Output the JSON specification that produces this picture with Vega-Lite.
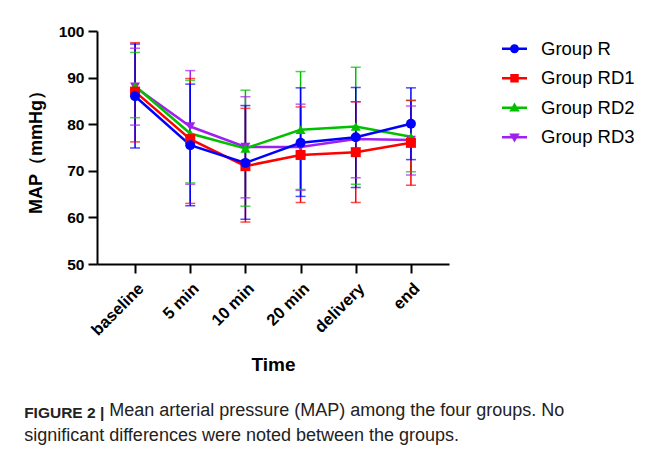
{
  "$schema": "https://vega.github.io/schema/vega-lite/v6.json",
  "width": 352,
  "height": 233,
  "autosize": {"type": "none"},
  "padding": {"left": 97, "top": 31, "right": 210, "bottom": 205},
  "background": "white",
  "title": {
    "text": "FIGURE 2 |",
    "subtitle": ["\u200b\u00a0\u00a0\u00a0\u00a0\u00a0\u00a0\u00a0\u00a0\u00a0\u00a0\u00a0\u00a0\u00a0\u00a0\u00a0\u00a0\u00a0Mean arterial pressure (MAP) among the four groups. No", "significant differences were noted between the groups."],
    "orient": "bottom",
    "anchor": "start",
    "frame": "bounds",
    "offset": 32,
    "dx": -3,
    "font": "Liberation Sans",
    "fontSize": 15.5,
    "fontWeight": "bold",
    "color": "#222222",
    "subtitleFont": "Liberation Sans",
    "subtitleFontSize": 18,
    "subtitleFontWeight": "normal",
    "subtitleColor": "#222222",
    "subtitleLineHeight": 25,
    "subtitlePadding": -19.5
  },
  "data": {
    "values": [
      {"group": "Group RD3", "time": "baseline", "mean": 88.0, "lo": 79.8, "hi": 96.3},
      {"group": "Group RD3", "time": "5 min", "mean": 79.5, "lo": 67.1, "hi": 91.5},
      {"group": "Group RD3", "time": "10 min", "mean": 75.1, "lo": 64.2, "hi": 85.9},
      {"group": "Group RD3", "time": "20 min", "mean": 75.1, "lo": 65.8, "hi": 84.3},
      {"group": "Group RD3", "time": "delivery", "mean": 76.8, "lo": 68.5, "hi": 84.8},
      {"group": "Group RD3", "time": "end", "mean": 76.6, "lo": 69.1, "hi": 83.9},
      {"group": "Group RD2", "time": "baseline", "mean": 88.2, "lo": 81.4, "hi": 95.4},
      {"group": "Group RD2", "time": "5 min", "mean": 78.0, "lo": 67.4, "hi": 89.4},
      {"group": "Group RD2", "time": "10 min", "mean": 74.8, "lo": 62.4, "hi": 87.3},
      {"group": "Group RD2", "time": "20 min", "mean": 78.8, "lo": 66.0, "hi": 91.3},
      {"group": "Group RD2", "time": "delivery", "mean": 79.5, "lo": 67.1, "hi": 92.2},
      {"group": "Group RD2", "time": "end", "mean": 77.3, "lo": 69.8, "hi": 85.1},
      {"group": "Group RD1", "time": "baseline", "mean": 87.0, "lo": 76.2, "hi": 97.5},
      {"group": "Group RD1", "time": "5 min", "mean": 76.8, "lo": 63.0, "hi": 89.8},
      {"group": "Group RD1", "time": "10 min", "mean": 71.0, "lo": 59.0, "hi": 83.4},
      {"group": "Group RD1", "time": "20 min", "mean": 73.4, "lo": 63.2, "hi": 83.7},
      {"group": "Group RD1", "time": "delivery", "mean": 74.0, "lo": 63.2, "hi": 84.8},
      {"group": "Group RD1", "time": "end", "mean": 76.0, "lo": 66.9, "hi": 85.1},
      {"group": "Group R", "time": "baseline", "mean": 86.0, "lo": 74.9, "hi": 97.2},
      {"group": "Group R", "time": "5 min", "mean": 75.5, "lo": 62.5, "hi": 88.6},
      {"group": "Group R", "time": "10 min", "mean": 71.7, "lo": 59.6, "hi": 84.0},
      {"group": "Group R", "time": "20 min", "mean": 76.0, "lo": 64.5, "hi": 87.8},
      {"group": "Group R", "time": "delivery", "mean": 77.2, "lo": 66.4, "hi": 87.9},
      {"group": "Group R", "time": "end", "mean": 80.1, "lo": 72.4, "hi": 87.8}
    ]
  },
  "encoding": {
    "x": {
      "field": "time",
      "type": "nominal",
      "scale": {"type": "point", "domain": ["baseline", "5 min", "10 min", "20 min", "delivery", "end"], "padding": 0.69},
      "axis": {"title": "Time", "labelAngle": -45, "labelPadding": 7, "labelFontSize": 16.5, "titlePadding": 17}
    }
  },
  "layer": [
    {
      "mark": {"type": "rule", "strokeWidth": 1.5},
      "encoding": {
        "y": {"field": "lo", "type": "quantitative"},
        "y2": {"field": "hi"},
        "color": {"field": "group", "type": "nominal", "legend": null,
          "scale": {"domain": ["Group R", "Group RD1", "Group RD2", "Group RD3"], "range": ["#0000FF", "#FF0000", "#00C000", "#A020F0"]}}
      }
    },
    {
      "mark": {"type": "tick", "thickness": 1.5, "size": 10, "orient": "horizontal"},
      "encoding": {
        "y": {"field": "lo", "type": "quantitative"},
        "color": {"field": "group", "type": "nominal", "legend": null}
      }
    },
    {
      "mark": {"type": "tick", "thickness": 1.5, "size": 10, "orient": "horizontal"},
      "encoding": {
        "y": {"field": "hi", "type": "quantitative"},
        "color": {"field": "group", "type": "nominal", "legend": null}
      }
    },
    {
      "mark": {"type": "line", "strokeWidth": 2.5},
      "encoding": {
        "y": {"field": "mean", "type": "quantitative",
          "scale": {"domain": [50, 100], "nice": false, "zero": false},
          "axis": {"title": "MAP（mmHg）", "titleFontSize": 18, "values": [50, 60, 70, 80, 90, 100], "titlePadding": 13, "labelPadding": 4}},
        "stroke": {"field": "group", "type": "nominal", "legend": null,
          "scale": {"domain": ["Group R", "Group RD1", "Group RD2", "Group RD3"], "range": ["#0000FF", "#FF0000", "#00C000", "#A020F0"]}}
      }
    },
    {
      "mark": {"type": "point", "filled": true, "size": 100, "opacity": 1, "strokeWidth": 0},
      "encoding": {
        "y": {"field": "mean", "type": "quantitative"},
        "fill": {"field": "group", "type": "nominal", "legend": null,
          "scale": {"domain": ["Group R", "Group RD1", "Group RD2", "Group RD3"], "range": ["#0000FF", "#FF0000", "#00C000", "#A020F0"]}},
        "shape": {"field": "group", "type": "nominal", "legend": null,
          "scale": {"domain": ["Group R", "Group RD1", "Group RD2", "Group RD3"], "range": ["circle", "square", "triangle-up", "triangle-down"]}}
      }
    },
    {
      "transform": [{"filter": "datum.mean < 0"}],
      "mark": {"type": "point", "filled": true, "size": 625, "strokeWidth": 0},
      "encoding": {
        "y": {"field": "mean", "type": "quantitative"},
        "fill": {"field": "group", "type": "nominal",
          "scale": {"domain": ["Group R", "Group RD1", "Group RD2", "Group RD3"], "range": ["#0000FF", "#FF0000", "#00C000", "#A020F0"]},
          "legend": {"orient": "none", "legendX": 405, "legendY": 5.2, "title": null, "symbolSize": 625, "symbolStrokeWidth": 0, "symbolOpacity": 1, "labelOffset": 14, "labelFontSize": 18.5, "labelFont": "Liberation Sans", "labelColor": "black", "rowPadding": 7.5, "padding": 0}},
        "shape": {"field": "group", "type": "nominal",
          "scale": {"domain": ["Group R", "Group RD1", "Group RD2", "Group RD3"], "range": [
            "M-1,-0.1H1V0.1H-1Z M0.36,0A0.36,0.36 0 1,1 -0.36,0A0.36,0.36 0 1,1 0.36,0Z",
            "M-1,-0.1H1V0.1H-1Z M-0.34,-0.34H0.34V0.34H-0.34Z",
            "M-1,-0.1H1V0.1H-1Z M0,-0.42L0.42,0.3L-0.42,0.3Z",
            "M-1,-0.1H1V0.1H-1Z M0,0.42L-0.42,-0.3L0.42,-0.3Z"]},
          "legend": {"orient": "none", "legendX": 405, "legendY": 5.2, "title": null, "symbolSize": 625, "symbolStrokeWidth": 0, "symbolOpacity": 1, "labelOffset": 14, "labelFontSize": 18.5, "labelFont": "Liberation Sans", "labelColor": "black", "rowPadding": 7.5, "padding": 0}}
      }
    }
  ],
  "resolve": {"scale": {"shape": "independent", "fill": "independent"}},
  "config": {
    "view": {"stroke": null},
    "axis": {
      "grid": false,
      "domainColor": "black",
      "domainWidth": 2,
      "tickColor": "black",
      "tickWidth": 2,
      "tickSize": 9,
      "labelFont": "Liberation Sans",
      "labelFontWeight": "bold",
      "labelFontSize": 15.5,
      "labelColor": "black",
      "titleFont": "Liberation Sans",
      "titleFontWeight": "bold",
      "titleFontSize": 19,
      "titleColor": "black"
    }
  }
}
